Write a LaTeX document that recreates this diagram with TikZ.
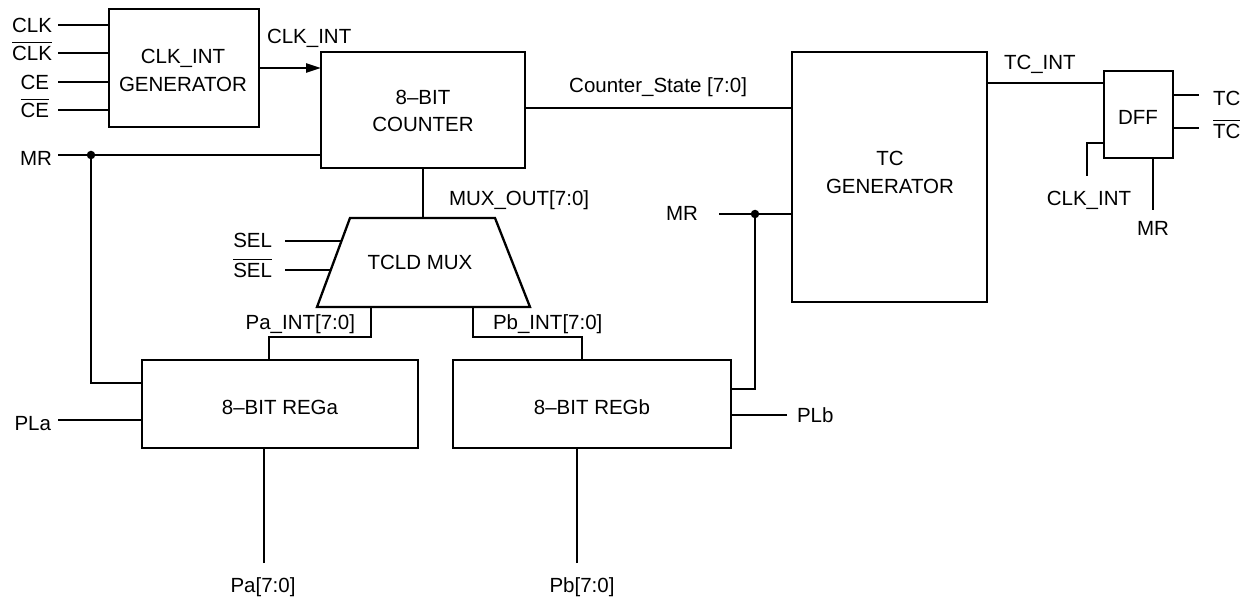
\documentclass[tikz,border=0pt]{standalone}
\usepackage{fontspec}
\setmainfont{Liberation Sans}
\usetikzlibrary{arrows.meta,calc}
\newcommand{\ovl}[1]{\setbox0=\hbox{#1}\rlap{\raise17.5pt\hbox{\vrule width\wd0 height1.6pt depth0pt}}\box0}
\begin{document}
\begin{tikzpicture}[x=1pt,y=-1pt,
  wire/.style={line width=2.3pt},
  blk/.style={draw,line width=2.3pt,rectangle,inner sep=0pt,outer sep=0pt},
  txt/.style={font=\fontsize{20.5}{24}\selectfont,inner sep=0pt,outer sep=0pt},
  dot/.style={circle,fill=black,inner sep=0pt,minimum size=8.5pt}]
\useasboundingbox (0,0) rectangle (1252,601);

% blocks
\node[blk,minimum width=150pt,minimum height=118pt] (gen) at (184,68) {};
\node[blk,minimum width=204pt,minimum height=116pt] (cnt) at (423,110) {};
\node[blk,minimum width=195pt,minimum height=250pt] (tcg) at (889.5,177) {};
\node[blk,minimum width=69pt,minimum height=87pt] (dff) at (1138.5,114.5) {};
\node[blk,minimum width=276pt,minimum height=88pt] (rega) at (280,404) {};
\node[blk,minimum width=278pt,minimum height=88pt] (regb) at (592,404) {};

% mux trapezium
\coordinate (muxTL) at (350,218);
\coordinate (muxTR) at (495,218);
\coordinate (muxBR) at (530,307);
\coordinate (muxBL) at (317,307);
\draw[wire,line join=miter] (muxTL) -- (muxTR) -- (muxBR) -- (muxBL) -- cycle;

% block texts
\node[txt,anchor=base] (gent1) at (183,64) {CLK\_INT};
\node[txt,anchor=base] (gent2) at (183,92) {GENERATOR};
\node[txt,anchor=base] (cntt1) at (423,105) {8–BIT};
\node[txt,anchor=base] (cntt2) at (423,132) {COUNTER};
\node[txt,anchor=base] (tcgt1) at (890,166) {TC};
\node[txt,anchor=base] (tcgt2) at (890,194) {GENERATOR};
\node[txt,anchor=base] (dfft) at (1138,125) {DFF};
\node[txt,anchor=base] (regat) at (280,414) {8–BIT REGa};
\node[txt,anchor=base] (regbt) at (592,414) {8–BIT REGb};
\node[txt,anchor=base] (muxt) at (420,270) {TCLD MUX};

% input labels
\node[txt,anchor=base east] (lclk) at (52,33) {CLK};
\node[txt,anchor=base east] (lclkb) at (52,61) {\ovl{CLK}};
\node[txt,anchor=base east] (lce) at (49,90) {CE};
\node[txt,anchor=base east] (lceb) at (49,118) {\ovl{CE}};
\node[txt,anchor=base east] (lmr) at (52,166) {MR};
\node[txt,anchor=base west] (lclkint) at (267,44) {CLK\_INT};
\node[txt,anchor=base east] (lcs) at (747,93) {Counter\_State [7:0]};
\node[txt,anchor=base west] (lmuxo) at (449,206) {MUX\_OUT[7:0]};
\node[txt,anchor=base east] (lsel) at (272,248) {SEL};
\node[txt,anchor=base east] (lselb) at (272,278) {\ovl{SEL}};
\node[txt,anchor=base east] (lpaint) at (355,330) {Pa\_INT[7:0]};
\node[txt,anchor=base west] (lpbint) at (493,330) {Pb\_INT[7:0]};
\node[txt,anchor=base east] (lpla) at (51,430) {PLa};
\node[txt,anchor=base west] (lplb) at (797,422) {PLb};
\node[txt,anchor=base] (lpa) at (263,592) {Pa[7:0]};
\node[txt,anchor=base] (lpb) at (582,592) {Pb[7:0]};
\node[txt,anchor=base east] (lmr2) at (698,221) {MR};
\node[txt,anchor=base west] (ltcint) at (1004,70) {TC\_INT};
\node[txt,anchor=base west] (ltc) at (1213,106) {TC};
\node[txt,anchor=base west] (ltcb) at (1213,139) {\ovl{TC}};
\node[txt,anchor=base] (lclkint2) at (1089,206) {CLK\_INT};
\node[txt,anchor=base] (lmr3) at (1153,236) {MR};

% wire end coordinates
\coordinate (iclk) at (58,25);
\coordinate (iclkb) at (58,53);
\coordinate (ice) at (58,82);
\coordinate (iceb) at (58,110);
\coordinate (mrA) at (58,155);
\coordinate (jA) at (91,155);
\coordinate (rA) at (142,383);
\coordinate (pla) at (58,420);
\coordinate (pa) at (264,563);
\coordinate (pb) at (577,563);
\coordinate (muxT) at (423,218);
\coordinate (muxA) at (371,307);
\coordinate (muxB) at (473,307);
\coordinate (sel) at (285,241);
\coordinate (selE) at (341.5,241);
\coordinate (selb) at (285,270);
\coordinate (selbE) at (330.7,270);
\coordinate (mrB) at (719,214);
\coordinate (jB) at (755,214);
\coordinate (rB) at (731,389);
\coordinate (plb) at (787,415);
\coordinate (tci) at (1104,83);
\coordinate (tco) at (1199,95);
\coordinate (tcbo) at (1199,128);
\coordinate (dck) at (1087,176);
\coordinate (dckB) at (1104,143);
\coordinate (dmr) at (1153,210);

% wires
\draw[wire] (iclk) -- (iclk -| gen.west);
\draw[wire] (iclkb) -- (iclkb -| gen.west);
\draw[wire] (ice) -- (ice -| gen.west);
\draw[wire] (iceb) -- (iceb -| gen.west);
\draw[wire,-{Triangle[length=15pt,width=9pt]}] (gen.east) -- (gen.east -| cnt.west);
\draw[wire] (mrA) -- (mrA -| cnt.west);
\draw[wire] (jA) |- (rA);
\node[dot] (dA) at (jA) {};
\draw[wire] (pla) -- (pla -| rega.west);
\draw[wire] (pa) -- (pa |- rega.south);
\draw[wire] (pb) -- (pb |- regb.south);
\draw[wire] (cnt.south) -- (muxT);
\draw[wire] (muxA) -- ++(0,30) -| ($(rega.north west)+(127,0)$);
\draw[wire] (muxB) -- ++(0,30) -| ($(regb.north west)+(129,0)$);
\draw[wire] (sel) -- (selE);
\draw[wire] (selb) -- (selbE);
\draw[wire] ($(cnt.east)+(0,-2)$) -- ($(cnt.east -| tcg.west)+(0,-2)$);
\draw[wire] (mrB) -- (mrB -| tcg.west);
\draw[wire] (jB) |- (rB);
\node[dot] (dB) at (jB) {};
\draw[wire] (plb) -- (plb -| regb.east);
\draw[wire] (tci -| tcg.east) -- (tci);
\draw[wire] (tco -| dff.east) -- (tco);
\draw[wire] (tcbo -| dff.east) -- (tcbo);
\draw[wire] (dck) |- (dckB);
\draw[wire] (dmr) -- (dmr |- dff.south);
\end{tikzpicture}
\end{document}
